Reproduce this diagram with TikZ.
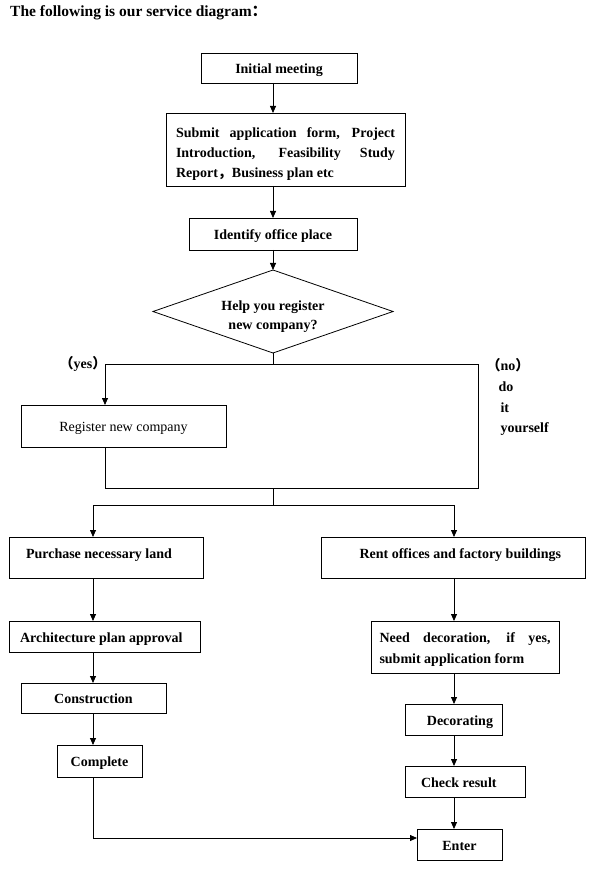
\documentclass[tikz,border=0pt]{standalone}
\usepackage{fontspec}
\setmainfont{Liberation Serif}
\newfontfamily\cjk{Noto Sans CJK SC}
\usetikzlibrary{shapes.geometric,arrows.meta}
\hyphenpenalty=10000

\begin{document}
\begin{tikzpicture}[x=1pt,y=1pt,yscale=-1,
        box/.style={draw,line width=0.8pt,inner sep=0pt,outer sep=0pt,text height=11.5pt,text depth=0pt,font=\bfseries\fontsize{14}{20}\selectfont},
        wire/.style={line width=0.8pt},
        arr/.style={line width=0.8pt,-{Triangle[length=7pt,width=6pt]}}]
        \useasboundingbox (0,0) rectangle (599,890);
        \node [anchor=west,inner sep=0pt,font=\bfseries\fontsize{15.5}{18}\selectfont] (title) at (10,13) {The following is our service diagram{\cjk ：}};
        \node [box,minimum width=156,minimum height=30] (init) at (279,68) {Initial meeting};
        \node [box,minimum width=239,minimum height=73,text width=219,align=justify,text height=10pt,text depth=33pt] (apply) at (285.5,149.5) {Submit application form, Project\linebreak Introduction, Feasibility Study\linebreak Report{\cjk ，}Business plan etc};
        \node [box,minimum width=168,minimum height=32] (place) at (273,234) {Identify office place};
        \node [box,diamond,aspect=2.9,minimum width=240,minimum height=83,align=center,text height=38pt,text depth=3pt,font=\bfseries\fontsize{14}{19}\selectfont] (ask) at (273,311.5) {Help you register\\new company?};
        \node [box,font=\fontsize{14}{20}\selectfont,minimum width=205,minimum height=42] (reg) at (123.5,426) {Register new company};
        \node [box,minimum width=194,minimum height=41,text height=6pt,text depth=3.4pt] (land) at (106,557.5) {\makebox[160pt][l]{Purchase necessary land}};
        \node [box,minimum width=264,minimum height=41,text height=6pt,text depth=3.4pt] (rent) at (453,557.5) {\makebox[216pt][r]{Rent offices and factory buildings}};
        \node [box,minimum width=191,minimum height=31] (plan) at (104.5,636.5) {\makebox[169pt][l]{Architecture plan approval}};
        \node [box,minimum width=188,minimum height=52,text width=171,align=justify,text height=10pt,text depth=20pt,font=\bfseries\fontsize{14}{21}\selectfont] (deco) at (465,647) {Need decoration, if yes,\linebreak submit application form};
        \node [box,minimum width=145,minimum height=30] (build) at (93.5,698) {Construction};
        \node [box,minimum width=85,minimum height=32] (done) at (99.5,761) {Complete};
        \node [box,minimum width=97,minimum height=31] (decorating) at (453.5,719.5) {\makebox[79pt][r]{Decorating}};
        \node [box,minimum width=120,minimum height=31] (check) at (465,781.5) {\makebox[88pt][l]{Check result}};
        \node [box,minimum width=85,minimum height=31] (enter) at (459.5,844.5) {Enter};
        \node [font=\bfseries\fontsize{14}{20}\selectfont] (yes) at (83,364) {{\cjk （}yes{\cjk ）}};
        \node [anchor=north west,align=left,font=\bfseries\fontsize{14}{20.7}\selectfont] (no) at (483,355) {{\cjk （}no{\cjk ）}\\\hspace{12pt}do\\\hspace{14pt}it\\\hspace{14pt}yourself};
        \coordinate (yesend) at (105,364);
        \coordinate (noend) at (478,364);
        \coordinate (yesback) at (105,488);
        \coordinate (noback) at (478,488);
        \coordinate (fork) at (273,505);
        \coordinate (buyfork) at (93,505);
        \coordinate (rentfork) at (454,505);
        \coordinate (donecorner) at (93,838);
        \draw [arr] (init.south -| fork) -- (apply.north -| fork);
        \draw [arr] (apply.south -| fork) -- (place.north -| fork);
        \draw [arr] (place.south) -- (ask.north);
        \draw [wire] (ask.south) -- (ask.south |- yesend);
        \draw [arr] (noend) -- (yesend) -- (yesend |- reg.north);
        \draw [wire] (noend) -- (noback) -- (yesback) -- (yesback |- reg.south);
        \draw [wire] (fork |- yesback) -- (fork);
        \draw [arr] (buyfork) -- (buyfork |- land.north);
        \draw [arr] (buyfork) -- (rentfork) -- (rentfork |- rent.north);
        \draw [arr] (land.south -| buyfork) -- (plan.north -| buyfork);
        \draw [arr] (plan.south -| buyfork) -- (build.north -| buyfork);
        \draw [arr] (build.south -| buyfork) -- (done.north -| buyfork);
        \draw [arr] (done.south -| buyfork) -- (donecorner) -- (donecorner -| enter.west);
        \draw [arr] (rent.south -| rentfork) -- (deco.north -| rentfork);
        \draw [arr] (deco.south -| rentfork) -- (decorating.north -| rentfork);
        \draw [arr] (decorating.south -| rentfork) -- (check.north -| rentfork);
        \draw [arr] (check.south -| rentfork) -- (enter.north -| rentfork);
\end{tikzpicture}
\end{document}
